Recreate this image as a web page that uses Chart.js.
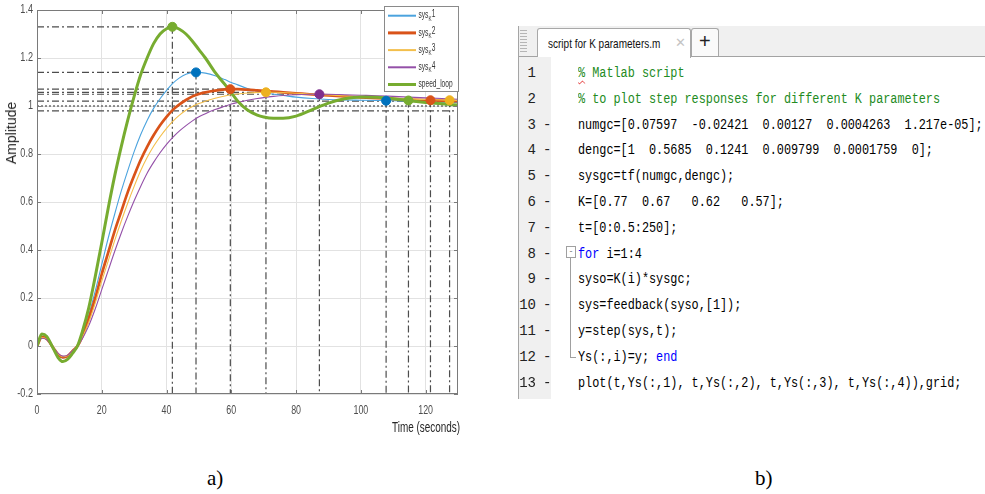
<!DOCTYPE html>
<html><head><meta charset="utf-8">
<script src="https://cdn.jsdelivr.net/npm/chart.js@4.4.1/dist/chart.umd.min.js"></script>
<style>
body{margin:0;width:985px;height:494px;background:#fff;position:relative;overflow:hidden;font-family:'Liberation Sans',Arial,sans-serif}
#wrap{position:absolute;left:0;top:0;width:470px;height:440px}
.ylab{position:absolute;left:11px;top:133px;transform:translate(-50%,-50%) rotate(-90deg);font-size:14px;color:#262626;white-space:nowrap}
.xlab{position:absolute;left:392px;top:419px;font-size:14px;color:#262626;white-space:nowrap;transform:scaleX(0.71);transform-origin:left top}
.cap{position:absolute;top:466px;font-family:'Liberation Serif','Times New Roman',serif;font-size:21px;color:#000}
#ed{position:absolute;left:518px;top:26px;width:467px;height:373px;border-left:1px solid #a5a5a5;background:#fff}
#bar{position:absolute;left:0;top:0;width:467px;height:30px;background:#f0f0f0;border-bottom:1px solid #a3a3a3}
#grip{position:absolute;left:1px;top:4px;width:7px;height:24px;background:repeating-linear-gradient(#b5b5b5 0 1px,transparent 1px 3px)}
.tab{position:absolute;top:2px;height:28px;background:#fafafa;border:1px solid #a8a8a8;border-bottom:none;border-radius:3px 3px 0 0;box-sizing:border-box}
#t1{left:18px;width:154px;background:#fff;height:30px}
#t2{left:172px;width:28px}
.tt{position:absolute;left:10px;top:7px;font-size:13px;color:#111;white-space:nowrap;transform:scaleX(0.77);transform-origin:left top}
.tx{position:absolute;left:137px;top:6px;font-size:13px;color:#c4c4c4}
.tp{position:absolute;left:7px;top:1px;font-size:20px;color:#222}
#gut{position:absolute;left:0;top:31px;width:32px;height:342px;background:#f0f0f0}
.row{position:absolute;height:26px;line-height:26px;font-family:'Liberation Mono','Courier New',monospace;font-size:14px;white-space:pre}
.num{position:absolute;left:0;width:17px;text-align:right;color:#222}
.dash{position:absolute;left:24px;color:#222}
.code{position:absolute;left:59px;color:#000;transform:scaleX(0.845);transform-origin:left center}
.cm{color:#228b22}.kw{color:#0000ff}
.sq{text-decoration:underline wavy #e02020;text-decoration-thickness:1px;text-underline-offset:3px}
#fold{position:absolute;left:47px;top:220px;width:8px;height:10px;border:1px solid #a0a0a0;background:#fff;font-size:9px;line-height:9px;text-align:center;color:#777}
#foldl{position:absolute;left:51px;top:232px;width:5px;height:99px;border-left:1px solid #a0a0a0;border-bottom:1px solid #a0a0a0}
</style></head><body>
<div id="wrap"><canvas id="c" width="470" height="440"></canvas></div>
<div class="ylab">Amplitude</div>
<div class="xlab">Time (seconds)</div>
<div class="cap" style="left:207px">a)</div>
<div class="cap" style="left:755px">b)</div>
<div id="ed">
  <div id="bar"><div id="grip"></div>
    <div class="tab" id="t1"><span class="tt">script for K parameters.m</span><span class="tx">&#x2715;</span></div>
    <div class="tab" id="t2"><span class="tp">+</span></div>
  </div>
  <div id="gut"></div>
  <div id="rows"></div>
  <div id="fold">-</div><div id="foldl"></div>
</div>
<script>
// step responses (time in s)
const T=[0,1.5,3,5,6.5,8,9.5,11,12.5,14,16,18,20,22,24,26,28,30,32,34,36,38,40,42,44,46,48,50,52,55,58,60,62,65,68,70,73,76,80,85,90,95,100,105,110,115,120,125,130];
const sysK1=[0,0.04,0.032,-0.008,-0.037,-0.05,-0.043,-0.022,0,0.045,0.13,0.23,0.34,0.45,0.55,0.645,0.73,0.81,0.88,0.94,0.99,1.03,1.065,1.095,1.117,1.132,1.139,1.14,1.137,1.126,1.11,1.098,1.088,1.073,1.062,1.056,1.049,1.044,1.037,1.031,1.027,1.025,1.024,1.023,1.022,1.02,1.018,1.016,1.014];
const sysK2=[0,0.037,0.03,-0.007,-0.035,-0.047,-0.041,-0.021,0,0.04,0.115,0.2,0.3,0.39,0.48,0.56,0.64,0.71,0.775,0.83,0.878,0.92,0.955,0.985,1.007,1.025,1.04,1.05,1.057,1.064,1.069,1.07,1.07,1.068,1.065,1.063,1.06,1.057,1.053,1.048,1.044,1.04,1.036,1.033,1.03,1.027,1.025,1.022,1.02];
const sysK3=[0,0.035,0.028,-0.007,-0.033,-0.045,-0.04,-0.02,0,0.035,0.1,0.18,0.27,0.355,0.44,0.52,0.595,0.665,0.73,0.785,0.832,0.872,0.907,0.937,0.962,0.982,0.998,1.01,1.02,1.032,1.042,1.047,1.05,1.054,1.056,1.057,1.057,1.056,1.053,1.049,1.046,1.042,1.038,1.035,1.032,1.029,1.027,1.025,1.023];
const sysK4=[0,0.032,0.026,-0.006,-0.031,-0.042,-0.038,-0.019,0,0.03,0.085,0.155,0.235,0.315,0.395,0.47,0.54,0.605,0.665,0.72,0.765,0.805,0.84,0.87,0.896,0.918,0.938,0.955,0.968,0.985,0.999,1.008,1.015,1.024,1.031,1.035,1.04,1.044,1.047,1.049,1.049,1.047,1.045,1.043,1.04,1.037,1.034,1.031,1.028];
const speedLoop=[0,0.05,0.04,-0.01,-0.048,-0.065,-0.055,-0.03,0,0.06,0.16,0.29,0.43,0.575,0.71,0.83,0.94,1.04,1.13,1.2,1.26,1.3,1.322,1.33,1.32,1.3,1.27,1.235,1.2,1.14,1.09,1.055,1.02,0.983,0.962,0.954,0.949,0.949,0.958,0.985,1.012,1.03,1.038,1.036,1.03,1.022,1.015,1.009,1.004];
const names=['sys_K1','sys_K2','sys_K3','sys_K4','speed_loop'];
const lineCol=['#4ba3de','#d95319','#f3bf4c','#9450a8','#77ac30'];
const markCol=['#0072bd','#d95319','#edb120','#7e2f8e','#77ac30'];
const widths=[1.1,2.7,1.1,1.1,3];
// peak response and settling time markers
const peakT=[49.1,59.7,70.7,87.2,41.8];
const peakY=[1.14,1.07,1.057,1.049,1.33];
const settleT=[107.8,121.5,127.4,null,114.7];
const settleY=[1.022,1.024,1.024,null,1.023];
const bandY=[0.98,1.02];
const finalY=1;
const xTicks=[0,20,40,60,80,100,120];
const yTicks=[-0.2,0,0.2,0.4,0.6,0.8,1,1.2,1.4];

const series=[sysK1,sysK2,sysK3,sysK4,speedLoop];
const ds=[];
// markers on top
series.forEach((s,i)=>{
  const pts=[{x:peakT[i],y:peakY[i]}];
  if(settleT[i]!=null)pts.push({x:settleT[i],y:settleY[i]});
  ds.push({data:pts,showLine:false,pointRadius:4.5,pointBackgroundColor:markCol[i],pointBorderColor:markCol[i],order:0});
});
series.forEach((s,i)=>ds.push({label:names[i],data:T.map((t,j)=>({x:t,y:s[j]})),borderColor:lineCol[i],borderWidth:widths[i],
  pointRadius:0,cubicInterpolationMode:'monotone',order:5-i}));
const guide=(a,b,dash)=>({data:[{x:a[0],y:a[1]},{x:b[0],y:b[1]}],borderColor:'#4d4d4d',borderWidth:1.2,borderDash:dash||[7,3,2,3],pointRadius:0,order:10});
peakT.forEach((t,i)=>{ds.push(guide([0,peakY[i]],[t,peakY[i]]));ds.push(guide([t,peakY[i]],[t,-0.2]));});
settleT.forEach((t,i)=>{if(t!=null)ds.push(guide([t,settleY[i]],[t,-0.2]));});
bandY.forEach(v=>ds.push(guide([0,v],[130,v])));
ds.push(guide([0,finalY],[130,finalY],[2,2]));

const deco={id:'deco',afterDraw(ch){
  const {ctx,chartArea:a,scales:{x,y}}=ch;
  ctx.save();
  ctx.strokeStyle='#7a7a7a';ctx.lineWidth=1;
  ctx.strokeRect(a.left+0.5,a.top+0.5,a.right-a.left-1,a.bottom-a.top-1);
  ctx.beginPath();
  xTicks.forEach(v=>{const p=Math.round(x.getPixelForValue(v))+0.5;ctx.moveTo(p,a.bottom);ctx.lineTo(p,a.bottom-4);ctx.moveTo(p,a.top);ctx.lineTo(p,a.top+4);});
  yTicks.forEach(v=>{const p=Math.round(y.getPixelForValue(v))+0.5;ctx.moveTo(a.left,p);ctx.lineTo(a.left+4,p);ctx.moveTo(a.right,p);ctx.lineTo(a.right-4,p);});
  ctx.stroke();
  ctx.fillStyle='#4d4d4d';ctx.font='12px "Liberation Sans", Arial, sans-serif';
  ctx.textBaseline='middle';
  xTicks.forEach(v=>{ctx.save();ctx.translate(x.getPixelForValue(v),a.bottom+17);ctx.scale(0.74,1);ctx.textAlign='center';ctx.fillText(String(v),0,0);ctx.restore();});
  yTicks.forEach(v=>{ctx.save();ctx.translate(a.left-4,y.getPixelForValue(v));ctx.scale(0.76,1);ctx.textAlign='right';ctx.fillText(String(v),0,0);ctx.restore();});
  // legend
  const lx=384.5,ly=6.5,lw=74,lh=85;
  ctx.fillStyle='#fff';ctx.fillRect(lx,ly,lw,lh);
  ctx.strokeStyle='#8a8a8a';ctx.strokeRect(lx,ly,lw,lh);
  names.forEach((n,i)=>{
    const yy=15.7+i*17.2;
    ctx.strokeStyle=lineCol[i];ctx.lineWidth=i==1||i==4?3:2;
    ctx.beginPath();ctx.moveTo(388,yy);ctx.lineTo(416,yy);ctx.stroke();
    ctx.save();ctx.translate(418.5,yy);ctx.scale(0.66,1);ctx.fillStyle='#333';ctx.textAlign='left';
    ctx.font='10px "Liberation Sans", Arial, sans-serif';
    const m=n.match(/^sys_K(\d)$/);
    if(m){
      ctx.fillText('sys',0,0);let w=ctx.measureText('sys').width;
      ctx.font='7px "Liberation Sans", Arial, sans-serif';ctx.fillText('K',w,3);w+=ctx.measureText('K').width;
      ctx.font='10px "Liberation Sans", Arial, sans-serif';ctx.fillText(m[1],w+0.5,-1.5);
    }else ctx.fillText(n,0,0);
    ctx.restore();
  });
  ctx.restore();
}};

new Chart(document.getElementById('c'),{type:'line',data:{datasets:ds},plugins:[deco],
  options:{responsive:false,animation:false,layout:{padding:{top:10,right:12,left:0,bottom:0}},
    plugins:{legend:{display:false},tooltip:{enabled:false}},
    scales:{
      x:{type:'linear',min:0,max:130,ticks:{display:false,stepSize:20,includeBounds:false},grid:{color:'#e2e2e2',drawTicks:false},border:{display:false},afterFit(s){s.height=46;}},
      y:{type:'linear',min:-0.2,max:1.4,ticks:{display:false,stepSize:0.2},grid:{color:'#e2e2e2',drawTicks:false},border:{display:false},afterFit(s){s.width=37;}}
    }}});

// editor text (panel b)
const codeRows=[
 ['1','','<span class="cm"><span class="sq">%</span> Matlab script</span>'],
 ['2','','<span class="cm">% to plot step responses for different K parameters</span>'],
 ['3','-','numgc=[0.07597  -0.02421  0.00127  0.0004263  1.217e-05];'],
 ['4','-','dengc=[1  0.5685  0.1241  0.009799  0.0001759  0];'],
 ['5','-','sysgc=tf(numgc,dengc);'],
 ['6','-','K=[0.77  0.67   0.62   0.57];'],
 ['7','-','t=[0:0.5:250];'],
 ['8','-','<span class="kw">for</span> i=1:4'],
 ['9','-','syso=K(i)*sysgc;'],
 ['10','-','sys=feedback(syso,[1]);'],
 ['11','-','y=step(sys,t);'],
 ['12','-','Ys(:,i)=y; <span class="kw">end</span>'],
 ['13','-','plot(t,Ys(:,1), t,Ys(:,2), t,Ys(:,3), t,Ys(:,4)),grid;']
];
document.getElementById('rows').innerHTML=codeRows.map((r,i)=>
 `<div class="row" style="top:${(33.8+i*25.83).toFixed(1)}px;left:0;width:467px"><span class="num">${r[0]}</span><span class="dash">${r[1]}</span><span class="code">${r[2]}</span></div>`).join('');
</script>
</body></html>
